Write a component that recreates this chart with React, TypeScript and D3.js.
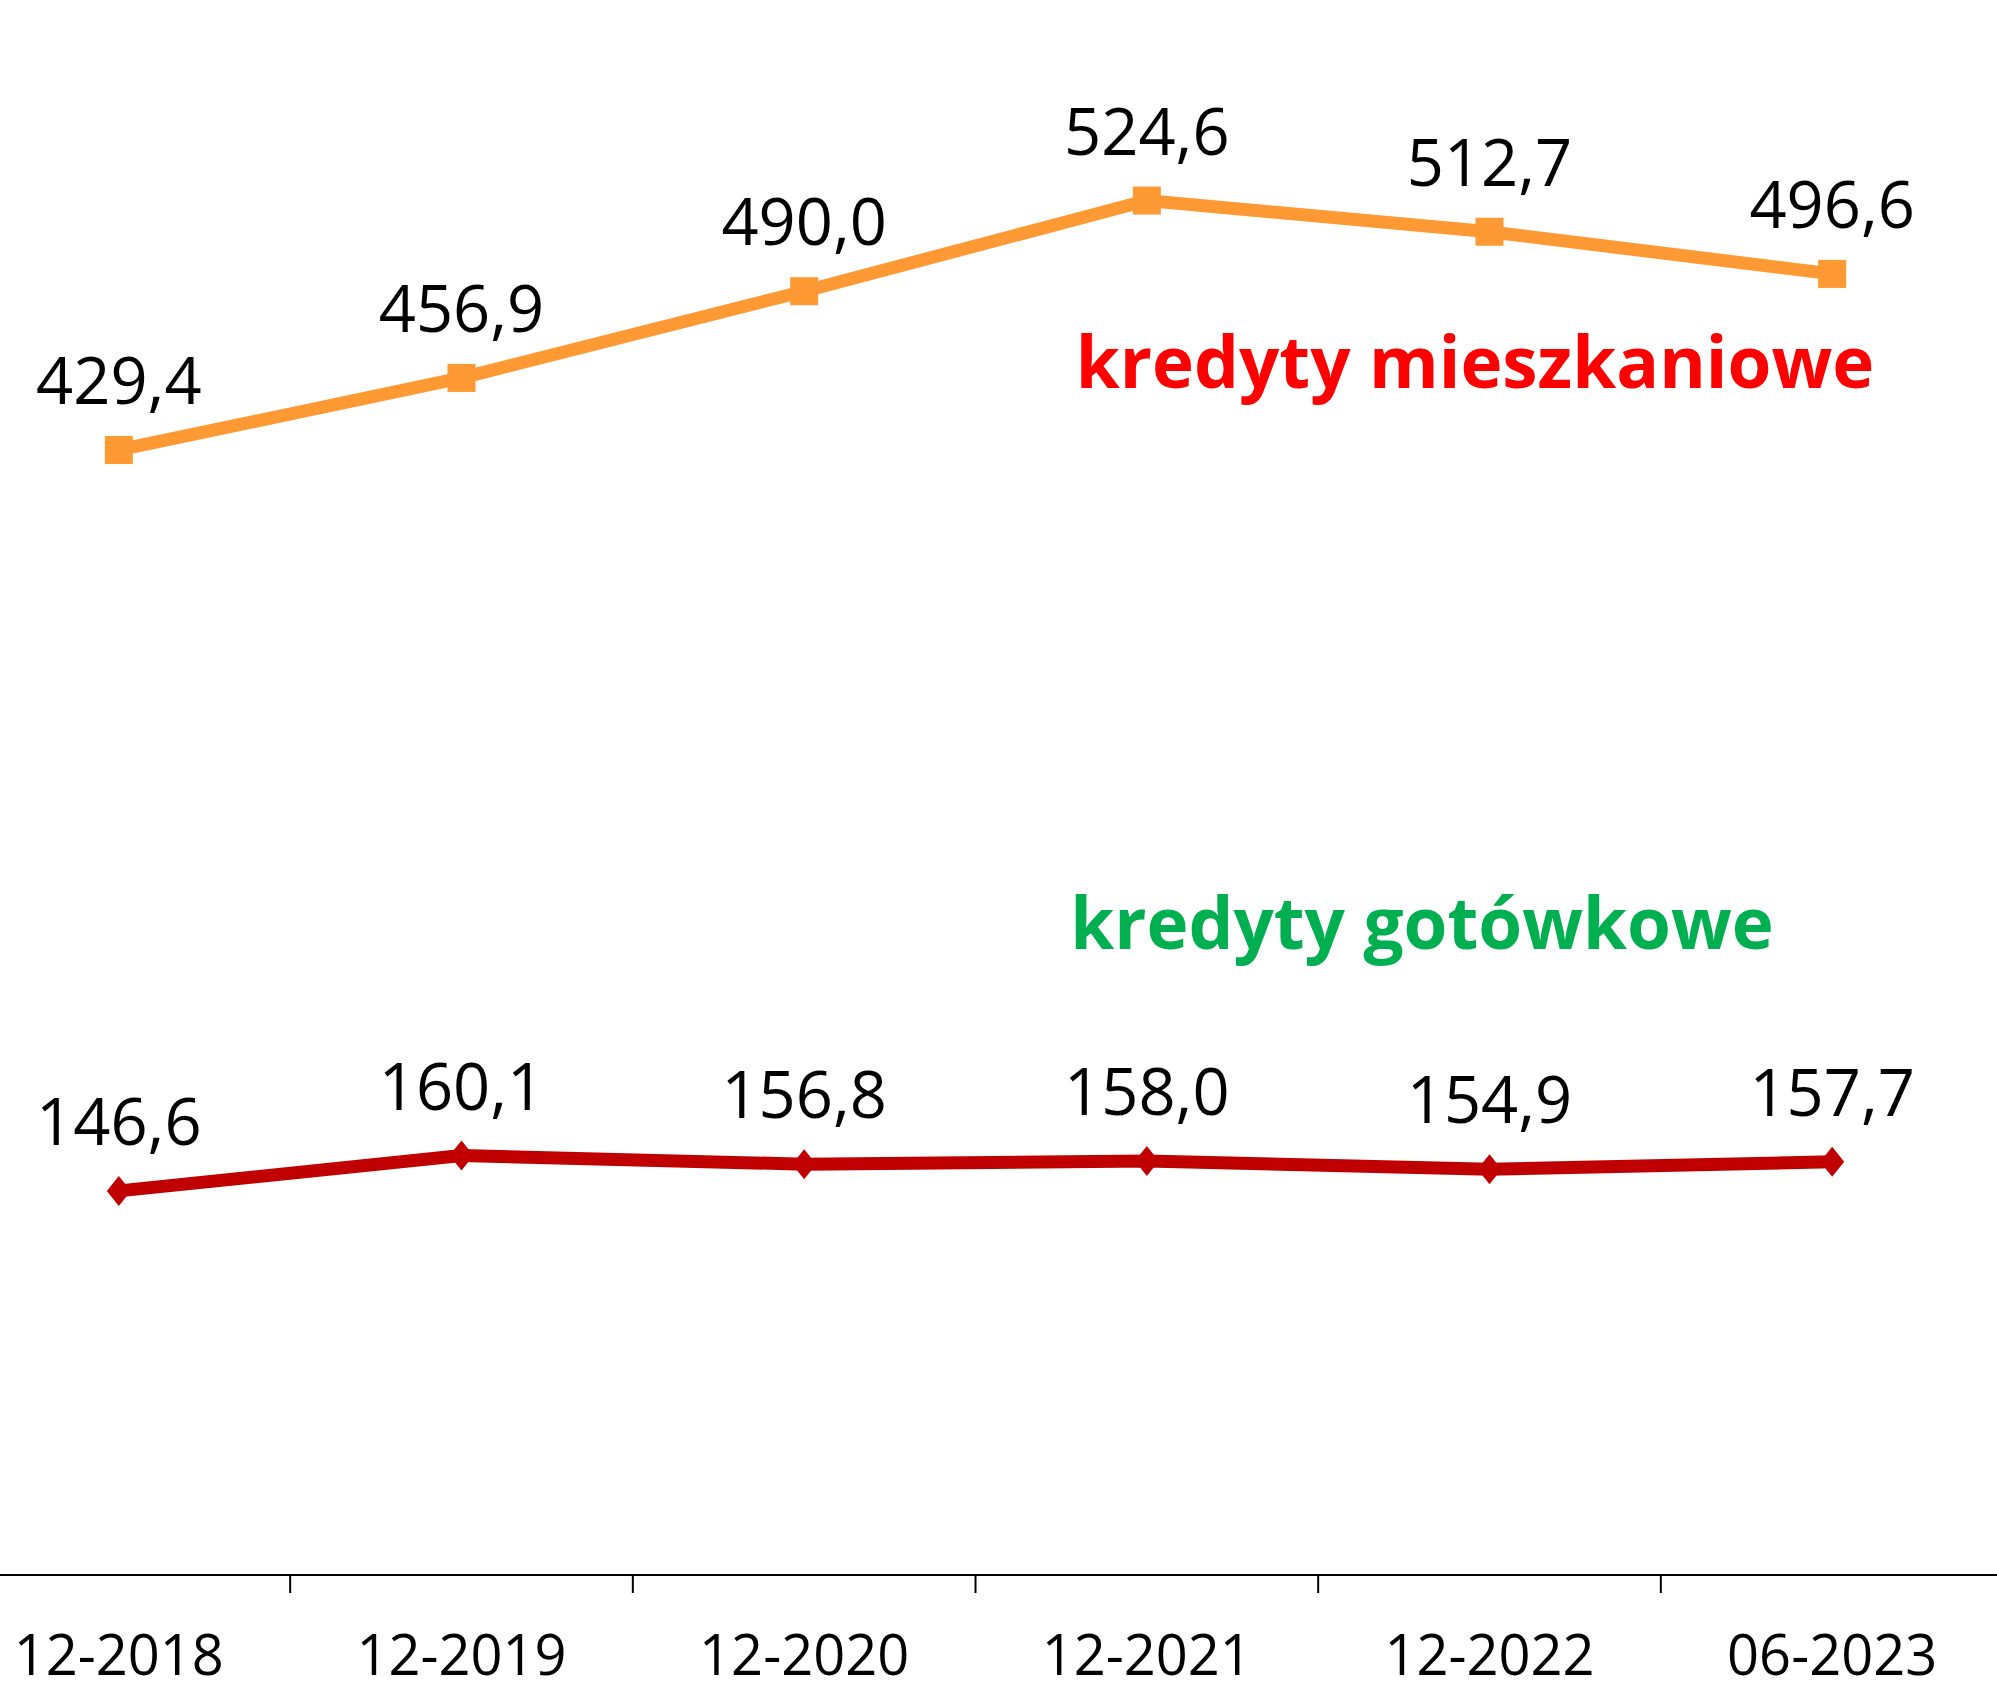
import React, { useRef, useEffect } from 'react';
import * as d3 from 'd3';

const periods = ['12-2018', '12-2019', '12-2020', '12-2021', '12-2022', '06-2023'];
const mieszkaniowe = [429.4, 456.9, 490.0, 524.6, 512.7, 496.6];
const gotowkowe = [146.6, 160.1, 156.8, 158.0, 154.9, 157.7];
const seriesNames = ['kredyty mieszkaniowe', 'kredyty gotówkowe'];

const W = 1997;
const H = 1685;
const FONT = '"Open Sans", sans-serif';

const fmt = (v: number) => d3.format('.1f')(v).replace('.', ',');

const App = () => {
  const svgRef = useRef<SVGSVGElement>(null);

  useEffect(() => {
    const svg = d3.select(svgRef.current);
    svg.selectAll('*').remove();

    // plot area is wider than the picture: first/last band are cut at the edges
    const x = d3.scaleBand().domain(periods).range([-52.5, 2003.5]);
    const cx = (p: string) => (x(p) as number) + x.bandwidth() / 2;
    const y = d3.scaleLinear().domain([0, 600]).range([1575, 3]);

    // axis
    const axis = svg.append('g').attr('transform', `translate(0,${y(0)})`);
    axis
      .append('line')
      .attr('x1', 0)
      .attr('x2', W)
      .attr('stroke', '#000')
      .attr('stroke-width', 2);
    axis
      .selectAll('line.tick')
      .data(periods.slice(1))
      .join('line')
      .attr('class', 'tick')
      .attr('x1', (d) => x(d) as number)
      .attr('x2', (d) => x(d) as number)
      .attr('y1', 0)
      .attr('y2', 18)
      .attr('stroke', '#000')
      .attr('stroke-width', 2);
    axis
      .selectAll('text')
      .data(periods)
      .join('text')
      .attr('x', (d) => cx(d))
      .attr('y', 100)
      .attr('text-anchor', 'middle')
      .attr('font-family', FONT)
      .attr('font-size', 56)
      .attr('fill', '#000')
      .text((d) => d);

    const line = d3
      .line<number>()
      .x((_, i) => cx(periods[i]))
      .y((d) => y(d));

    // kredyty mieszkaniowe
    svg
      .append('path')
      .datum(mieszkaniowe)
      .attr('fill', 'none')
      .attr('stroke', '#FF9933')
      .attr('stroke-width', 13)
      .attr('d', line);
    svg
      .selectAll('rect.m')
      .data(mieszkaniowe)
      .join('rect')
      .attr('class', 'm')
      .attr('x', (_, i) => cx(periods[i]) - 14)
      .attr('y', (d) => y(d) - 14)
      .attr('width', 28)
      .attr('height', 28)
      .attr('fill', '#FF9933');
    svg
      .selectAll('text.ml')
      .data(mieszkaniowe)
      .join('text')
      .attr('class', 'ml')
      .attr('x', (_, i) => cx(periods[i]))
      .attr('y', (d) => y(d) - 46)
      .attr('text-anchor', 'middle')
      .attr('font-family', FONT)
      .attr('font-size', 65)
      .attr('fill', '#000')
      .text((d) => fmt(d));

    // kredyty gotówkowe
    svg
      .append('path')
      .datum(gotowkowe)
      .attr('fill', 'none')
      .attr('stroke', '#C00000')
      .attr('stroke-width', 13)
      .attr('d', line);
    svg
      .selectAll('path.g')
      .data(gotowkowe)
      .join('path')
      .attr('class', 'g')
      .attr('d', 'M0,-15L12,0L0,15L-12,0Z')
      .attr('transform', (d, i) => `translate(${cx(periods[i])},${y(d)})`)
      .attr('fill', '#C00000');
    svg
      .selectAll('text.gl')
      .data(gotowkowe)
      .join('text')
      .attr('class', 'gl')
      .attr('x', (_, i) => cx(periods[i]))
      .attr('y', (d) => y(d) - 46)
      .attr('text-anchor', 'middle')
      .attr('font-family', FONT)
      .attr('font-size', 65)
      .attr('fill', '#000')
      .text((d) => fmt(d));

    // series names
    svg
      .append('text')
      .attr('x', 1475)
      .attr('y', 388)
      .attr('text-anchor', 'middle')
      .attr('font-family', FONT)
      .attr('font-weight', 'bold')
      .attr('font-size', 71)
      .attr('fill', '#FF0000')
      .text(seriesNames[0]);
    svg
      .append('text')
      .attr('x', 1422)
      .attr('y', 949)
      .attr('text-anchor', 'middle')
      .attr('font-family', FONT)
      .attr('font-weight', 'bold')
      .attr('font-size', 71)
      .attr('fill', '#00B050')
      .text(seriesNames[1]);
  }, []);

  return (
    <svg
      ref={svgRef}
      width={W}
      height={H}
      style={{ position: 'absolute', left: 0, top: 0, background: '#fff' }}
    />
  );
};

export default App;
